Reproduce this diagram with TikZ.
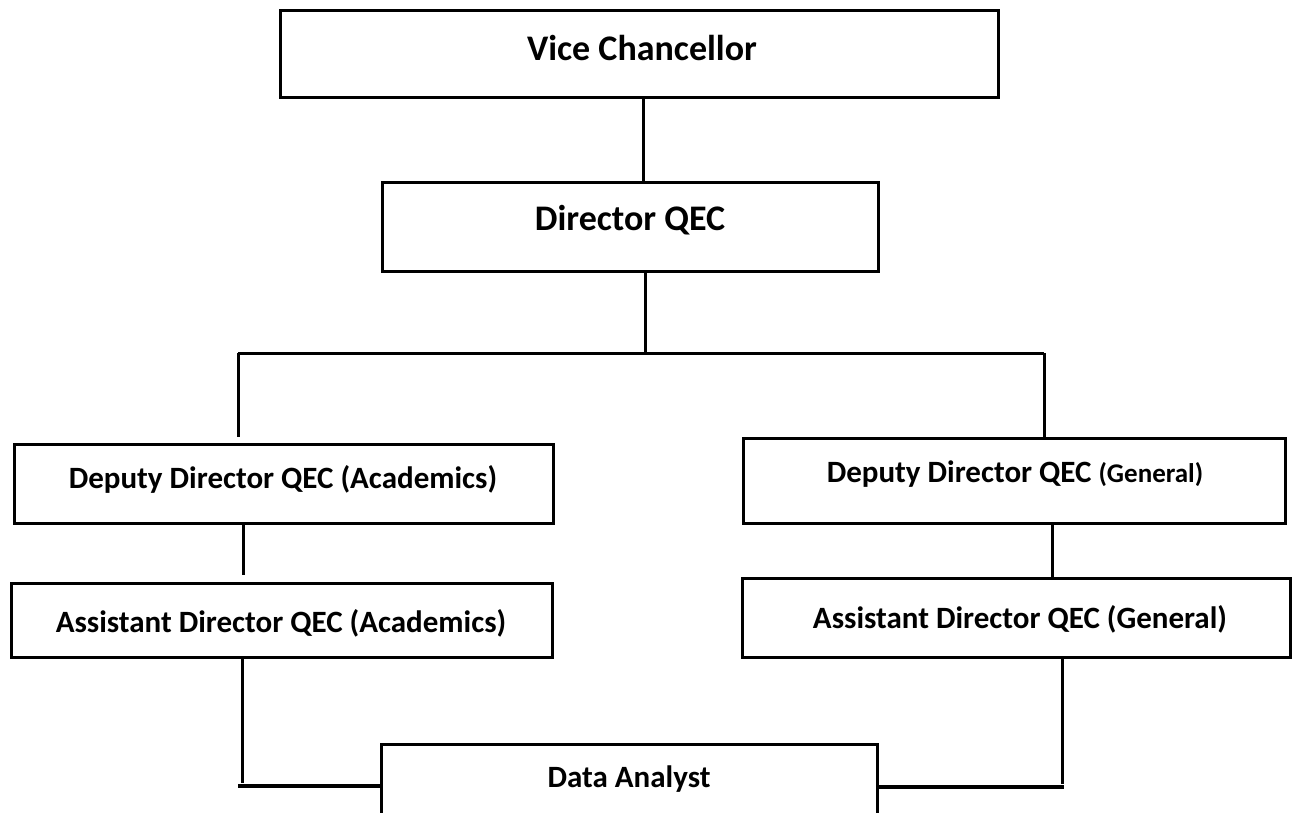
\documentclass[tikz,border=0pt]{standalone}
\usepackage{fontspec}
\setmainfont{Carlito}
\begin{document}
\begin{tikzpicture}[x=1pt,y=-1pt,
  box/.style={draw=black,line width=3pt,fill=white,inner sep=0pt},
  conn/.style={draw=black,line width=3pt},
  lbl/.style={inner sep=0pt,anchor=base,font=\bfseries}]
\clip (0,0) rectangle (1295,812);
\fill[white] (0,0) rectangle (1295,812);
% boxes
\node[box,minimum width=718pt,minimum height=87pt] (vc) at (639,53.5) {};
\node[box,minimum width=496pt,minimum height=89pt] (dir) at (630,226.5) {};
\node[box,minimum width=539pt,minimum height=79pt] (dda) at (283.5,483.5) {};
\node[box,minimum width=542pt,minimum height=85pt] (ddg) at (1014,480.5) {};
\node[box,minimum width=541pt,minimum height=74pt] (ada) at (281.5,620) {};
\node[box,minimum width=548pt,minimum height=79pt] (adg) at (1016,617.5) {};
\node[box,minimum width=496pt,minimum height=120pt] (da) at (629,804) {};
% labels
\node[lbl,font=\fontsize{36}{40}\selectfont\bfseries] (vct) at (642,60) {Vice Chancellor};
\node[lbl,font=\fontsize{36}{40}\selectfont\bfseries] (dirt) at (630,230) {Director QEC};
\node[lbl,font=\fontsize{31}{36}\selectfont\bfseries] (ddat) at (283,488) {Deputy Director QEC (Academics)};
\node[lbl,font=\fontsize{31}{36}\selectfont\bfseries] (ddgt) at (1015,482) {Deputy Director QEC {\fontsize{27}{32}\selectfont(General)}};
\node[lbl,font=\fontsize{31}{36}\selectfont\bfseries] (adat) at (281,632) {Assistant Director QEC (Academics)};
\node[lbl,font=\fontsize{31}{36}\selectfont\bfseries] (adgt) at (1020,628) {Assistant Director QEC (General)};
\node[lbl,font=\fontsize{31}{36}\selectfont\bfseries] (dat) at (629,787) {Data Analyst};
% junction points
\coordinate (busL) at (238,353);
\coordinate (busR) at (1044,353);
\coordinate (busM) at (645,353);
\coordinate (ldrop) at (238,437);
\coordinate (lbend) at (242,786);
\coordinate (rbend) at (1062,787);
% connectors
\draw[conn] ([xshift=4pt]vc.south) -- ([xshift=13pt]dir.north);
\draw[conn] ([xshift=15pt]dir.south) -- (busM);
\draw[conn] (busL) -- (busR);
\draw[conn] (busL) -- (ldrop);
\draw[conn] (busR) -- (busR |- ddg.north);
\draw[conn] ([xshift=-40.5pt]dda.south) -- ++(0,50);
\draw[conn] ([xshift=38pt]ddg.south) -- ([xshift=36pt]adg.north);
\draw[conn] ([xshift=-39.5pt]ada.south) -- ([yshift=3pt]lbend);
\draw[conn,line width=4pt] ([xshift=-4pt]lbend) -- (lbend -| da.west);
\draw[conn] ([xshift=46pt]adg.south) -- ([yshift=3pt]rbend);
\draw[conn,line width=4pt] (da.east |- rbend) -- ([xshift=1.5pt]rbend);
\end{tikzpicture}
\end{document}
